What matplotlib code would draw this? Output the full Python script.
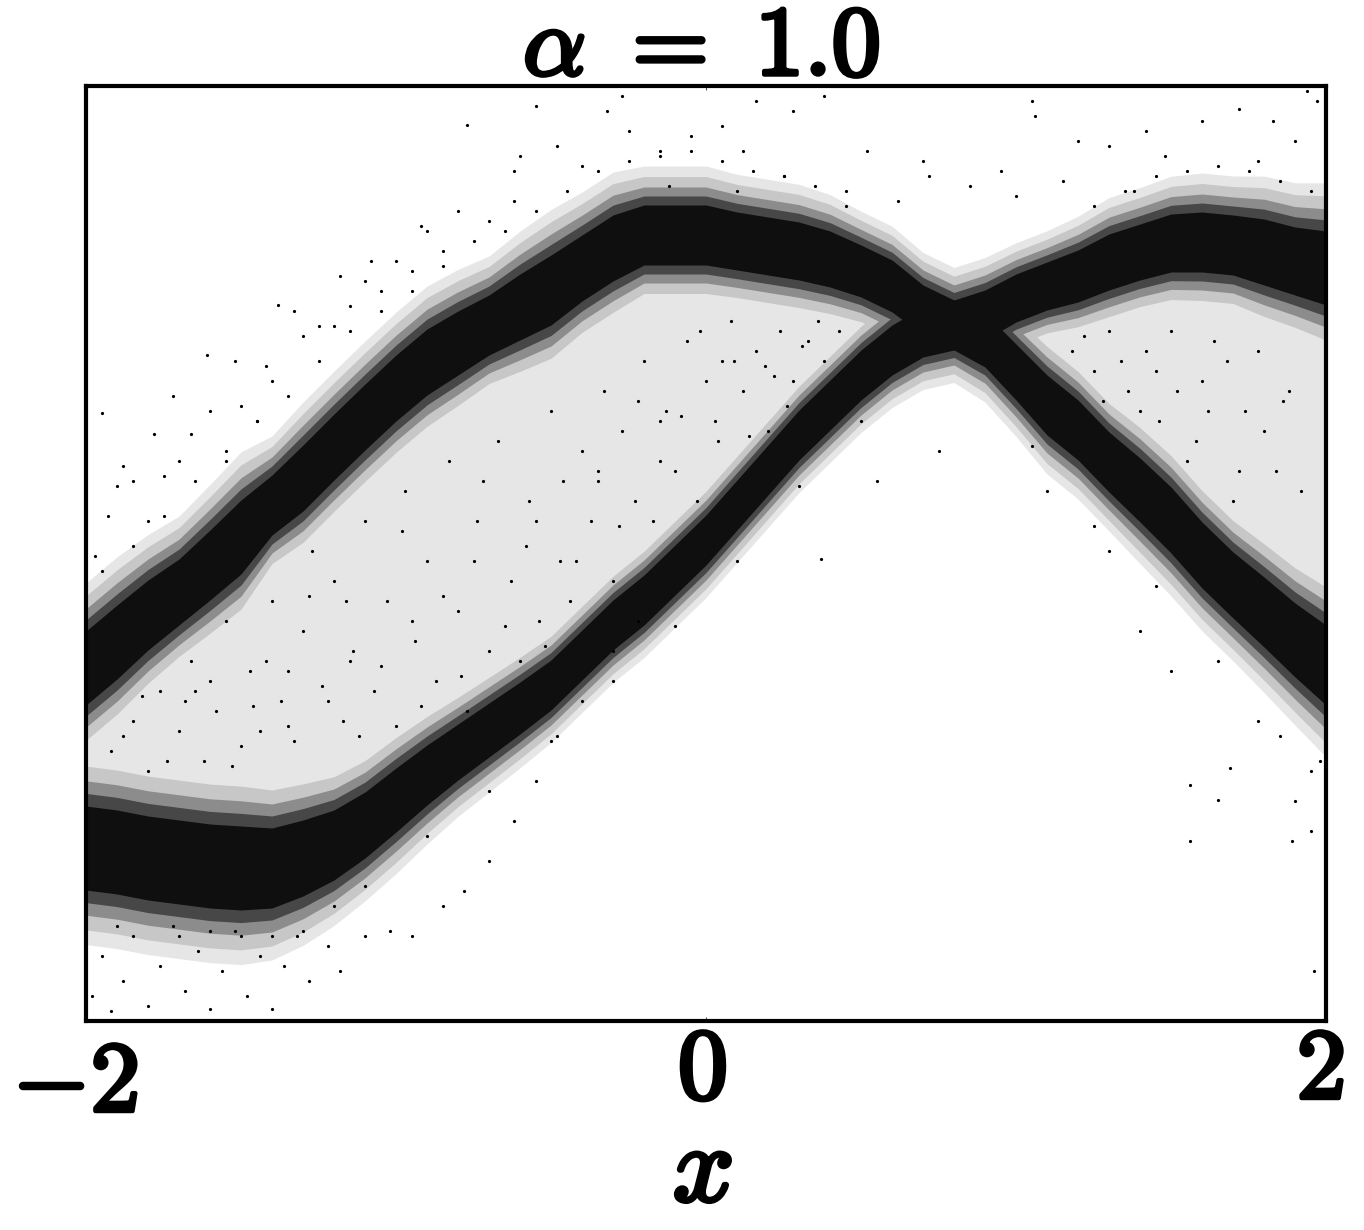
import matplotlib
matplotlib.use("Agg")
import numpy as np
import matplotlib.pyplot as plt
import matplotlib.patheffects as pe
from matplotlib.transforms import ScaledTranslation

plt.rcParams["mathtext.fontset"] = "cm"

# The plot holds far too many dots to read one by one, so the two bands are
# read off the picture as centre and half width, the stray dots as points.
x_band = [-2, -1.9, -1.8, -1.7, -1.6, -1.5, -1.4, -1.3, -1.2, -1.1, -1, -0.9, -0.8, -0.7,
          -0.6, -0.5, -0.4, -0.3, -0.2, -0.1, 0, 0.1, 0.2, 0.3, 0.4, 0.5, 0.6, 0.7,
          0.8, 0.9, 1, 1.1, 1.2, 1.3, 1.4, 1.5, 1.6, 1.7, 1.8, 1.9, 2]
upper_mid = [3.53, 3.79, 4.06, 4.29, 4.56, 4.84, 5.16, 5.43, 5.74, 6.04, 6.33, 6.59, 6.78, 6.96,
             7.14, 7.31, 7.53, 7.73, 7.86, 7.86, 7.86, 7.80, 7.75, 7.70, 7.62, 7.50, 7.35, 7.11,
             6.96, 7.06, 7.23, 7.35, 7.45, 7.59, 7.69, 7.78, 7.79, 7.76, 7.69, 7.60, 7.53]
upper_half = [.37, .37, .35, .33, .35, .37, .30, .33, .33, .33, .33, .33, .32, .30,
              .33, .35, .33, .33, .30, .30, .30, .29, .29, .29, .28, .26, .26, .25,
              .25, .25, .24, .24, .26, .28, .28, .29, .30, .30, .33, .34, .37]
lower_mid = [1.73, 1.69, 1.63, 1.59, 1.55, 1.53, 1.53, 1.63, 1.76, 1.96, 2.21, 2.46, 2.69, 2.91,
             3.13, 3.36, 3.66, 3.96, 4.21, 4.51, 4.81, 5.16, 5.51, 5.86, 6.16, 6.46, 6.71, 6.89,
             6.96, 6.81, 6.49, 6.16, 5.91, 5.59, 5.31, 5.01, 4.66, 4.36, 4.09, 3.81, 3.56]
lower_half = [.42, .42, .42, .42, .42, .42, .40, .38, .35, .33, .32, .30, .28, .27,
              .26, .25, .25, .25, .25, .25, .25, .25, .25, .25, .25, .25, .25, .25,
              .25, .27, .28, .30, .30, .30, .32, .33, .33, .33, .35, .37, .40]

top_x = [-0.55, -0.48, -0.32, -0.27, -0.25, -0.15, -0.05, 0.05, 0.12, 0.16,
         0.28, 0.38, 0.52, 0.7, 0.72, 0.95, 1.05, 1.06, 1.2, 1.3,
         1.42, 1.48, 1.6, 1.72, 1.78, 1.83, 1.9, 1.94, 1.97, -0.62,
         -0.4, -0.12, 0.1, 0.25, 0.45, 0.62, 0.85, 1.0, 1.15, 1.38]
top_y = [9.15, 8.75, 9.1, 9.25, 8.9, 8.7, 8.85, 8.95, 8.7, 9.2,
         9.1, 9.25, 8.7, 8.6, 8.45, 8.5, 9.2, 9.05, 8.8, 8.75,
         8.9, 8.65, 9.0, 9.12, 8.6, 9.0, 8.8, 9.3, 9.2, 8.5,
         8.55, 8.35, 8.3, 8.45, 8.3, 8.2, 8.35, 8.25, 8.4, 8.3]

left_x = [-1.97, -1.93, -1.9, -1.85, -1.8, -1.75, -1.7, -1.66, -1.6, -1.55,
          -1.5, -1.45, -1.4, -1.38, -1.3, -1.25, -1.2, -1.15, -1.1, -1.05,
          -1.0, -0.95, -0.9, -0.85, -0.77, -0.7, -0.62, -0.6, -1.95, -1.78,
          -1.61, -1.88, -1.72, -1.52, -1.42, -1.33, -1.18, -1.08, -0.92, -0.8]
left_y = [4.65, 5.05, 5.35, 5.4, 5.0, 5.45, 5.6, 5.87, 6.1, 5.7,
          6.15, 6.0, 6.4, 7.16, 6.85, 6.95, 6.95, 7.15, 7.4, 7.3,
          7.6, 7.5, 7.9, 7.7, 8.96, 8.0, 8.2, 8.65, 6.08, 5.87,
          6.66, 5.55, 6.25, 6.6, 6.55, 7.1, 7.45, 7.6, 7.95, 8.1]

inner_x = [-1.92, -1.85, -1.8, -1.76, -1.7, -1.66, -1.62, -1.58, -1.55, -1.5,
           -1.47, -1.44, -1.4, -1.37, -1.33, -1.3, -1.27, -1.24, -1.2, -1.17,
           -1.14, -1.1, -1.07, -1.03, -1.0, -0.97, -0.94, -0.9, -0.87, -0.83,
           -0.8, -0.77, -0.74, -0.7, -0.67, -0.63, -0.6, -0.57, -0.54, -0.5,
           -0.47, -0.44, -0.4, -0.37, -0.33, -0.3, -0.27, -0.23, -0.2, -0.17,
           -0.13, -0.1, -0.06, -0.03, 0.0, 0.04, 0.08, 0.12, 0.16, 0.2,
           0.24, 0.28, 0.33, 0.38, 0.43, 1.18, 1.25, 1.3, 1.36, 1.42,
           1.46, 1.5, 1.55, 1.6, 1.64, 1.7, 1.74, 1.78, 1.84, 1.88,
           -1.88, -1.82, -1.74, -1.68, -1.6, -1.53, -1.46, -1.42, -1.35, -1.28,
           -1.22, -1.16, -1.12, -1.05, -0.98, -0.92, -0.85, -0.79, -0.72, -0.65,
           -0.58, -0.52, -0.46, -0.42, -0.35, -0.28, -0.22, -0.15, -0.08, -0.02,
           0.03, 0.09, 0.14, 0.19, 0.26, 0.31, 0.36, 1.22, 1.28, 1.34,
           1.4, 1.45, 1.52, 1.58, 1.62, 1.68, 1.72, 1.8, 1.86, 1.92,
           -1.65, -1.35, -1.15, -0.95, -0.75, -0.55, -0.35, -0.15, 0.05, 0.22]
inner_y = [2.7, 3.0, 2.5, 3.3, 2.9, 3.6, 2.6, 3.1, 4.0, 2.75,
           3.5, 2.9, 4.2, 3.2, 2.8, 3.9, 4.7, 3.35, 4.4, 3.0,
           3.7, 5.0, 3.3, 4.2, 2.95, 5.3, 3.8, 4.6, 3.4, 5.6,
           4.1, 3.1, 5.0, 3.7, 5.8, 4.4, 3.6, 5.2, 4.0, 6.1,
           4.6, 4.2, 5.7, 5.0, 6.3, 4.4, 5.9, 5.2, 6.6, 5.0,
           6.1, 5.5, 6.8, 5.2, 6.4, 5.8, 7.0, 6.3, 6.7, 5.9,
           6.9, 6.4, 6.8, 6.6, 6.9, 6.7, 6.5, 6.9, 6.3, 6.7,
           6.0, 6.9, 5.6, 6.4, 6.8, 5.2, 6.1, 6.7, 5.5, 6.3,
           2.85, 3.25, 2.6, 3.2, 3.4, 2.55, 3.15, 3.6, 2.95, 4.25,
           3.2, 4.2, 2.85, 3.55, 4.9, 3.15, 4.25, 3.45, 5.4, 3.95,
           4.75, 3.75, 5.4, 4.6, 5.5, 4.95, 6.2, 5.6, 6.05, 6.9,
           6.0, 6.6, 5.85, 6.55, 6.15, 6.75, 7.0, 6.85, 6.2, 6.6,
           6.1, 6.5, 6.3, 5.8, 6.1, 6.6, 5.5, 5.9, 6.2, 5.3,
           3.3, 3.5, 3.6, 4.0, 4.6, 5.0, 5.4, 6.0, 6.6, 6.45]

low_x = [-1.98, -1.95, -1.92, -1.88, -1.85, -1.8, -1.76, -1.72, -1.68, -1.64,
         -1.6, -1.56, -1.52, -1.48, -1.44, -1.4, -1.36, -1.32, -1.28, -1.22,
         -1.18, -1.1, -1.02, -0.95, -0.85, -0.78, -0.7, -0.62, -0.55, -0.48,
         -0.4, -0.3, -0.22, 0.37, 0.55, 0.75, 1.1, 1.3, 1.56, 1.56,
         1.65, 1.69, 1.89, 1.96, 1.9, 1.95, 1.4, 1.5, 1.78, 1.98]
low_y = [0.25, 0.65, 0.1, 0.4, 0.85, 0.15, 0.55, 0.95, 0.3, 0.7,
         0.12, 0.5, 0.9, 0.25, 0.65, 0.12, 0.55, 0.85, 0.4, 0.75,
         0.5, 0.85, 0.9, 0.85, 1.15, 1.3, 1.6, 2.0, 2.4, 2.85,
         3.2, 3.7, 4.0, 4.62, 5.4, 5.7, 5.3, 4.7, 1.8, 2.36,
         2.21, 2.53, 1.8, 0.5, 2.2, 1.9, 3.9, 3.5, 3.0, 2.6]

# loose dots along the outer edges of the two bands
edge_x = [-1.95, -1.85, -1.75, -1.65, -1.55, -1.45, -1.35, -1.25, -1.15, -1.05,
          -0.95, -0.85, -0.75, -0.65, -0.55, -0.45, -0.35, -0.25, -0.15, -0.05,
          0.05, 0.15, 0.25, 0.35, 0.45, 1.25, 1.35, 1.45, 1.55, 1.65,
          1.75, 1.85, 1.95, -1.9, -1.7, -1.5, -1.3, -1.1, -0.9, -0.7,
          -0.5, -0.3, -0.1, 0.1, 0.3, 0.5, 1.05, 1.25, 1.45, 1.65,
          1.85, 1.95, -1.6, -1.4, -1.2]
edge_y = [4.5, 4.75, 5.05, 5.4, 5.6, 6.0, 6.25, 6.6, 6.9, 7.1,
          7.3, 7.55, 7.8, 7.9, 8.1, 8.3, 8.5, 8.6, 8.65, 8.7,
          8.6, 8.5, 8.45, 8.35, 8.15, 8.15, 8.3, 8.45, 8.5, 8.55,
          8.5, 8.4, 8.3, 0.95, 0.85, 0.85, 0.9, 1.35, 1.85, 2.3,
          2.8, 3.4, 3.95, 4.6, 5.35, 6.0, 5.75, 4.95, 4.35, 3.6,
          2.85, 2.5, 0.9, 0.85, 1.15]

tick_pos = [-2, 0, 2]
tick_text = [r"$-2$", r"$0$", r"$2$"]

x_band = np.array(x_band)
upper_mid = np.array(upper_mid)
upper_half = np.array(upper_half)
lower_mid = np.array(lower_mid)
lower_half = np.array(lower_half)

fig = plt.figure(figsize=(13.64, 12.30), dpi=100)
ax = fig.add_axes([86 / 1364, 1 - 1021 / 1230, 1240 / 1364, 935 / 1230])

# sparse dots between the bands, as a faint tone
ax.fill_between(x_band, lower_mid, upper_mid, color="0.9", lw=0)

# fuzzy edges first, near black core on top
for scale, tone in [(2.3, "0.9"), (1.95, "0.78"), (1.6, "0.55"), (1.3, "0.28"), (1.0, "0.06")]:
    ax.fill_between(x_band, upper_mid - scale * upper_half, upper_mid + scale * upper_half, color=tone, lw=0)
    ax.fill_between(x_band, lower_mid - scale * lower_half, lower_mid + scale * lower_half, color=tone, lw=0)

ax.plot(top_x + left_x + inner_x + low_x + edge_x, top_y + left_y + inner_y + low_y + edge_y,
        "o", color="black", ms=2.3, mew=0)

ax.set_xlim(-2, 2)
ax.set_ylim(0, 9.35)
ax.set_yticks([])
ax.set_xticks(tick_pos)
ax.set_xticklabels(tick_text, fontsize=72)
ax.tick_params(axis="x", direction="in", top=True, length=3, width=0.5, pad=1)
for side in ax.spines.values():
    side.set_linewidth(3)

# the CM bold in mathtext is too light, so thicken the glyphs with a stroke
heavy = [pe.withStroke(linewidth=3.2, foreground="black")]

# -2 sits lower than the other two in the reference
nudges = [(-0.11, -0.13), (-0.04, 0), (-0.06, 0)]
for lab, (dx, dy) in zip(ax.get_xticklabels(), nudges):
    lab.set_transform(lab.get_transform() + ScaledTranslation(dx, dy, fig.dpi_scale_trans))
    lab.set_path_effects(heavy)

xlab = ax.set_xlabel(r"$x$", fontsize=78, labelpad=-10)
xlab.set_x(0.497)
xlab.set_path_effects(heavy)
title = ax.set_title(r"$\alpha\ =\ 1.0$", fontsize=71, pad=8)
title.set_x(0.496)
title.set_path_effects(heavy)

fig.savefig("out.png", dpi=100)
